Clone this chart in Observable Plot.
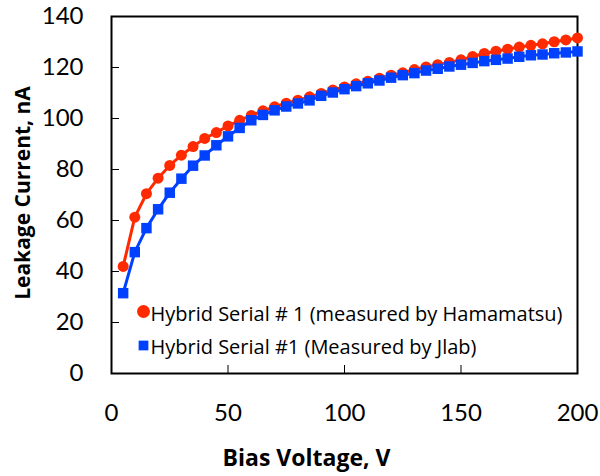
<!DOCTYPE html>
<html>
<head>
<meta charset="utf-8">
<script src="https://cdn.jsdelivr.net/npm/d3@7"></script>
<script src="https://cdn.jsdelivr.net/npm/@observablehq/plot@0.6"></script>
<style>
  html, body { margin: 0; padding: 0; background: #fff; }
  #chart svg { display: block; }
</style>
</head>
<body>
<div id="chart"></div>
<script>
const voltage = [5,10,15,20,25,30,35,40,45,50,55,60,65,70,75,80,85,90,95,100,
                 105,110,115,120,125,130,135,140,145,150,155,160,165,170,175,180,185,190,195,200];
const hamamatsu = [42.0,61.3,70.5,76.6,81.6,85.6,89.0,92.2,94.5,97.1,99.3,101.2,103.0,104.6,106.0,107.2,108.5,109.8,111.2,112.4,
                   113.6,114.6,115.8,117.0,117.9,119.2,120.2,121.1,122.0,123.0,124.3,125.5,126.4,127.2,128.0,128.7,129.3,130.1,130.8,131.6];
const jlab = [31.5,47.6,57.0,64.4,70.9,76.4,81.5,85.5,89.5,93.0,96.3,99.3,101.4,103.2,104.7,105.9,107.1,108.9,110.2,111.5,
              112.7,113.8,114.9,116.0,117.0,117.8,118.8,119.5,120.4,121.1,121.8,122.5,123.0,123.5,124.2,124.8,125.1,125.6,125.9,126.3];
const seriesNames = ["Hybrid Serial # 1 (measured by Hamamatsu)", "Hybrid Serial #1 (Measured by Jlab)"];
const xTicks = [0, 50, 100, 150, 200];
const yTicks = [0, 20, 40, 60, 80, 100, 120, 140];
const xTitle = "Bias Voltage, V";
const yTitle = "Leakage Current, nA";

const red = "#ff2a00";
const blue = "#0040ff";

const dataH = voltage.map((v, i) => ({v, c: hamamatsu[i]}));
const dataJ = voltage.map((v, i) => ({v, c: jlab[i]}));

const tickFont = "Lato, 'Open Sans', sans-serif";
const textFont = "'Open Sans', Lato, sans-serif";

const chart = Plot.plot({
  width: 600,
  height: 476,
  marginLeft: 111,
  marginRight: 23,
  marginTop: 16,
  marginBottom: 103,
  style: {fontFamily: tickFont, color: "#000", background: "#fff"},
  x: {domain: [0, 200], axis: null},
  y: {domain: [0, 140], axis: null},
  marks: [
    Plot.tickX(xTicks, {x: d => d, stroke: "#000", strokeWidth: 1, insetTop: 349}),
    Plot.tickY(yTicks, {y: d => d, stroke: "#000", strokeWidth: 1, insetRight: 458}),
    Plot.axisX(xTicks, {tickSize: 0, tickPadding: 30, fontSize: 24, label: null, tickFormat: d => String(d)}),
    Plot.axisY(yTicks, {tickSize: 0, tickPadding: 28, fontSize: 24, label: null, tickFormat: d => String(d)}),
    Plot.frame({stroke: "#000", strokeWidth: 2}),
    Plot.line(dataH, {x: "v", y: "c", stroke: red, strokeWidth: 3}),
    Plot.dot(dataH, {x: "v", y: "c", fill: red, r: 5.5, symbol: "circle"}),
    Plot.line(dataJ, {x: "v", y: "c", stroke: blue, strokeWidth: 3}),
    Plot.dot(dataJ, {x: "v", y: "c", fill: blue, r: 5.9, symbol: "square"}),
    // legend
    Plot.dot([seriesNames[0]], {frameAnchor: "bottom-left", dx: 32, dy: -62, fill: red, r: 6.5, symbol: "circle"}),
    Plot.dot([seriesNames[1]], {frameAnchor: "bottom-left", dx: 32, dy: -28, fill: blue, r: 5.5, symbol: "square"}),
    Plot.text([seriesNames[0]], {text: d => d, frameAnchor: "bottom-left", dx: 39, dy: -53, lineAnchor: "bottom", textAnchor: "start", fontFamily: textFont, fontSize: 20, fill: "#000"}),
    Plot.text([seriesNames[1]], {text: d => d, frameAnchor: "bottom-left", dx: 39, dy: -20, lineAnchor: "bottom", textAnchor: "start", fontFamily: textFont, fontSize: 20, fill: "#000"}),
    // axis titles
    Plot.text([xTitle], {text: d => d, frameAnchor: "bottom", dx: -38, dy: 92, lineAnchor: "bottom", textAnchor: "middle", fontFamily: textFont, fontSize: 23, fontWeight: "bold", fill: "#000"}),
    Plot.text([yTitle], {text: d => d, frameAnchor: "left", dx: -88, dy: -2, rotate: -90, lineAnchor: "middle", textAnchor: "middle", fontFamily: textFont, fontSize: 21, fontWeight: "bold", fill: "#000"})
  ]
});
document.getElementById("chart").appendChild(chart);
</script>
</body>
</html>
